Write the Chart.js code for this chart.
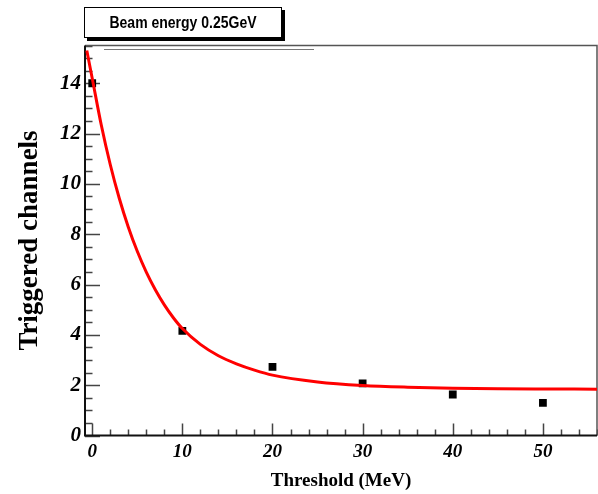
<!DOCTYPE html>
<html>
<head>
<meta charset="utf-8">
<script src="https://cdn.jsdelivr.net/npm/chart.js@4"></script>
<style>
  html, body { margin: 0; padding: 0; background: #fff; }
  #wrap { width: 598px; height: 494px; }
</style>
</head>
<body>
<div id="wrap"><canvas id="thrChart" width="598" height="494"></canvas></div>
<script>
// measured points: triggered channels vs threshold
const thresholds = [0, 10, 20, 30, 40, 50];
const channels = [14.0, 4.16, 2.73, 2.07, 1.63, 1.30];

// fitted curve, sampled along the threshold axis
const fitX = [-0.6, 0, 1, 2, 3, 4, 5, 6, 7, 8, 9, 10, 12, 14, 16, 18, 20, 25, 30, 35, 40, 45, 50, 56];
const fitY = [15.3, 14.2, 12.35, 10.77, 9.43, 8.29, 7.32, 6.49, 5.79, 5.19, 4.68, 4.25, 3.62, 3.17, 2.85, 2.6, 2.4, 2.13, 1.99, 1.92, 1.88, 1.86, 1.85, 1.84];

const xTickValues = [0, 10, 20, 30, 40, 50];
const yTickValues = [0, 2, 4, 6, 8, 10, 12, 14];

const beamLabel = 'Beam energy 0.25GeV';

const toXY = (xs, ys) => xs.map((x, i) => ({ x: x, y: ys[i] }));

// frame, inward ticks and the label box
const framePlugin = {
    id: 'framePlugin',
    beforeDatasetsDraw(chart) {
        const { ctx, chartArea: a, scales } = chart;
        const xs = scales.x, ys = scales.y;
        ctx.save();

        // y ticks
        ctx.strokeStyle = '#444';
        ctx.lineWidth = 1.5;
        ctx.beginPath();
        for (let v = 0; v <= ys.max + 1e-6; v += 0.5) {
            const py = Math.round(ys.getPixelForValue(v)) + 0.5;
            const len = (Math.abs(v % 2) < 1e-6) ? 15 : 7.5;
            ctx.moveTo(a.left, py);
            ctx.lineTo(a.left + len, py);
        }
        // x ticks
        for (let v = 0; v <= xs.max + 1e-6; v += 2) {
            const px = Math.round(xs.getPixelForValue(v)) + 0.5;
            const len = (Math.abs(v % 10) < 1e-6) ? 12 : 6;
            ctx.moveTo(px, a.bottom);
            ctx.lineTo(px, a.bottom - len);
        }
        ctx.stroke();

        // top and right edges
        ctx.strokeStyle = '#555';
        ctx.lineWidth = 1.5;
        ctx.beginPath();
        ctx.moveTo(a.left, a.top);
        ctx.lineTo(a.right, a.top);
        ctx.lineTo(a.right, a.bottom);
        ctx.stroke();

        ctx.strokeStyle = '#777';
        ctx.lineWidth = 1;
        ctx.beginPath();
        ctx.moveTo(104, a.top + 4);
        ctx.lineTo(314, a.top + 4);
        ctx.stroke();

        // left and bottom axes
        ctx.strokeStyle = '#111';
        ctx.lineWidth = 2;
        ctx.beginPath();
        ctx.moveTo(a.left, a.top);
        ctx.lineTo(a.left, a.bottom);
        ctx.lineTo(a.right, a.bottom);
        ctx.stroke();
        ctx.restore();
    },
    afterDraw(chart) {
        const { ctx } = chart;
        const bx = 84, by = 7, bw = 198, bh = 31;
        ctx.save();
        ctx.fillStyle = '#000';
        ctx.fillRect(bx + 3, by + 3, bw, bh);
        ctx.fillStyle = '#fff';
        ctx.fillRect(bx, by, bw, bh);
        ctx.strokeStyle = '#000';
        ctx.lineWidth = 1;
        ctx.strokeRect(bx + 0.5, by + 0.5, bw - 1, bh - 1);
        ctx.fillStyle = '#000';
        ctx.font = "bold 14px 'Liberation Sans', Arial, sans-serif";
        ctx.textAlign = 'center';
        ctx.textBaseline = 'middle';
        ctx.translate(bx + bw / 2, by + bh / 2 + 0.5);
        ctx.scale(1, 1.18);
        ctx.fillText(beamLabel, 0, 0);
        ctx.restore();
    }
};

const tickFont = (size) => ({ family: "'Liberation Serif', 'Times New Roman', serif", size: size, weight: 'bold', style: 'italic' });
const titleFont = (size) => ({ family: "'Liberation Serif', 'Times New Roman', serif", size: size, weight: 'bold' });

const ctx = document.getElementById('thrChart').getContext('2d');
new Chart(ctx, {
    type: 'scatter',
    data: {
        datasets: [
            {
                label: 'fit',
                data: toXY(fitX, fitY),
                showLine: true,
                borderColor: '#ff0000',
                borderWidth: 3,
                pointRadius: 0,
                cubicInterpolationMode: 'monotone',
                fill: false,
                order: 0
            },
            {
                label: 'data',
                data: toXY(thresholds, channels),
                pointStyle: 'rect',
                pointRadius: 5.5,
                backgroundColor: '#000',
                borderColor: '#000',
                borderWidth: 0,
                order: 1
            }
        ]
    },
    options: {
        responsive: false,
        animation: false,
        devicePixelRatio: 1,
        layout: { autoPadding: false, padding: { top: 45.5, right: 1, left: 0, bottom: 0 } },
        plugins: {
            legend: { display: false },
            tooltip: { enabled: false }
        },
        scales: {
            x: {
                type: 'linear',
                min: -0.8,
                max: 56,
                afterFit: (s) => { s.height = 58.5; s.paddingLeft = 0; s.paddingRight = 0; },
                grid: { display: false, drawTicks: false },
                border: { display: false },
                afterBuildTicks: (s) => { s.ticks = xTickValues.map(v => ({ value: v })); },
                ticks: {
                    padding: 5,
                    color: '#000',
                    font: tickFont(19),
                    maxRotation: 0,
                    autoSkip: false
                },
                title: {
                    display: true,
                    text: 'Threshold (MeV)',
                    color: '#000',
                    font: titleFont(19),
                    padding: { top: 0, bottom: 2 }
                }
            },
            y: {
                type: 'linear',
                min: 0,
                max: 15.5,
                afterFit: (s) => { s.width = 85; s.paddingTop = 0; s.paddingBottom = 0; },
                grid: { display: false, drawTicks: false },
                border: { display: false },
                afterBuildTicks: (s) => { s.ticks = yTickValues.map(v => ({ value: v })); },
                ticks: {
                    padding: 4,
                    color: '#000',
                    font: tickFont(21),
                    autoSkip: false
                },
                title: {
                    display: true,
                    text: 'Triggered channels',
                    color: '#000',
                    font: titleFont(27),
                    padding: { top: 14, bottom: 0 }
                }
            }
        }
    },
    plugins: [framePlugin]
});
</script>
</body>
</html>
